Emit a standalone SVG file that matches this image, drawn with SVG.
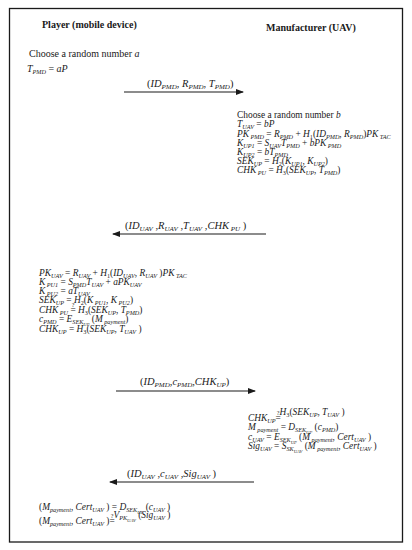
<svg xmlns="http://www.w3.org/2000/svg" width="412" height="550" viewBox="0 0 412 550">
<defs>
<style>
text{font-family:"Liberation Serif","Times New Roman",serif;fill:#1a1a1a;font-size:9.4px}
.h{font-size:10px;font-weight:bold}
.big{font-size:10px}
.lab{font-size:10.5px}
.lab .s{font-size:7px}
.i{font-style:italic}
.s{font-style:italic;font-size:6.2px}
.ss{font-style:italic;font-size:4.6px}
.n{font-style:normal;font-size:6.2px}
.q{font-size:6px;font-style:normal}
.ln{stroke:#1a1a1a;stroke-width:1.1;fill:none}
</style>
<marker id="ah" markerWidth="8" markerHeight="6" refX="7" refY="3" orient="auto" markerUnits="userSpaceOnUse">
<path d="M0,0 L8,3 L0,6 Z" fill="#1a1a1a"/>
</marker>
</defs>
<rect x="0" y="0" width="412" height="550" fill="#fff"/>
<rect x="9.5" y="8.5" width="393" height="533.5" fill="none" stroke="#1a1a1a" stroke-width="1.3"/>

<g id="player-title"><text class="h" x="42" y="28">Player (mobile device)</text></g>
<g id="uav-title"><text class="h" x="266" y="31">Manufacturer (UAV)</text></g>

<g id="player-step1">
<text class="big" x="29" y="57">Choose a random number <tspan class="i">a</tspan></text>
<text class="big" x="27" y="72"><tspan class="i">T</tspan><tspan class="s" dy="2">PMD</tspan><tspan dy="-2"> = </tspan><tspan class="i">aP</tspan></text>
</g>

<g id="uav-step1">
<text x="237" y="118">Choose a random number <tspan class="i">b</tspan></text>
<text x="237" y="127"><tspan class="i">T</tspan><tspan class="s" dy="2">UAV</tspan><tspan dy="-2"> = </tspan><tspan class="i">bP</tspan></text>
<text x="237" y="137"><tspan class="i">PK</tspan><tspan class="s" dy="2"> PMD</tspan><tspan dy="-2"> = </tspan><tspan class="i">R</tspan><tspan class="s" dy="2">PMD</tspan><tspan dy="-2"> + </tspan><tspan class="i">H</tspan><tspan class="n" dy="2">1</tspan><tspan dy="-2">(</tspan><tspan class="i">ID</tspan><tspan class="s" dy="2">PMD</tspan><tspan dy="-2">, </tspan><tspan class="i">R</tspan><tspan class="s" dy="2">PMD</tspan><tspan dy="-2">)</tspan><tspan class="i">PK</tspan><tspan class="s" dy="2"> TAC</tspan></text>
<text x="237" y="146"><tspan class="i">K</tspan><tspan class="s" dy="2">UP1</tspan><tspan dy="-2"> = </tspan><tspan class="i">S</tspan><tspan class="s" dy="2">UAV</tspan><tspan class="i" dy="-2">T</tspan><tspan class="s" dy="2">PMD</tspan><tspan dy="-2"> + </tspan><tspan class="i">bPK</tspan><tspan class="s" dy="2"> PMD</tspan></text>
<text x="237" y="155"><tspan class="i">K</tspan><tspan class="s" dy="2">UP2</tspan><tspan dy="-2"> = </tspan><tspan class="i">bT</tspan><tspan class="s" dy="2">PMD</tspan></text>
<text x="237" y="164"><tspan class="i">SEK</tspan><tspan class="s" dy="2">UP</tspan><tspan dy="-2"> = </tspan><tspan class="i">H</tspan><tspan class="n" dy="2">2</tspan><tspan dy="-2">(</tspan><tspan class="i">K</tspan><tspan class="s" dy="2">UP1</tspan><tspan dy="-2">, </tspan><tspan class="i">K</tspan><tspan class="s" dy="2">UP2</tspan><tspan dy="-2">)</tspan></text>
<text x="237" y="173"><tspan class="i">CHK</tspan><tspan class="s" dy="2"> PU</tspan><tspan dy="-2"> = </tspan><tspan class="i">H</tspan><tspan class="n" dy="2">3</tspan><tspan dy="-2">(</tspan><tspan class="i">SEK</tspan><tspan class="s" dy="2">UP</tspan><tspan dy="-2">, </tspan><tspan class="i">T</tspan><tspan class="s" dy="2">PMD</tspan><tspan dy="-2">)</tspan></text>
</g>

<g id="player-step2">
<text x="39" y="276"><tspan class="i">PK</tspan><tspan class="s" dy="2">UAV</tspan><tspan dy="-2"> = </tspan><tspan class="i">R</tspan><tspan class="s" dy="2">UAV</tspan><tspan dy="-2"> + </tspan><tspan class="i">H</tspan><tspan class="n" dy="2">1</tspan><tspan dy="-2">(</tspan><tspan class="i">ID</tspan><tspan class="s" dy="2">UAV</tspan><tspan dy="-2">, </tspan><tspan class="i">R</tspan><tspan class="s" dy="2">UAV</tspan><tspan dy="-2"> )</tspan><tspan class="i">PK</tspan><tspan class="s" dy="2"> TAC</tspan></text>
<text x="39" y="285"><tspan class="i">K</tspan><tspan class="s" dy="2"> PU1</tspan><tspan dy="-2"> = </tspan><tspan class="i">S</tspan><tspan class="s" dy="2">PMD</tspan><tspan class="i" dy="-2">T</tspan><tspan class="s" dy="2">UAV</tspan><tspan dy="-2"> + </tspan><tspan class="i">aPK</tspan><tspan class="s" dy="2">UAV</tspan></text>
<text x="39" y="294"><tspan class="i">K</tspan><tspan class="s" dy="2"> PU2</tspan><tspan dy="-2"> = </tspan><tspan class="i">aT</tspan><tspan class="s" dy="2">UAV</tspan></text>
<text x="39" y="303"><tspan class="i">SEK</tspan><tspan class="s" dy="2">UP</tspan><tspan dy="-2"> = </tspan><tspan class="i">H</tspan><tspan class="n" dy="2">2</tspan><tspan dy="-2">(</tspan><tspan class="i">K</tspan><tspan class="s" dy="2"> PU1</tspan><tspan dy="-2">, </tspan><tspan class="i">K</tspan><tspan class="s" dy="2"> PU2</tspan><tspan dy="-2">)</tspan></text>
<text x="39" y="313"><tspan class="i">CHK</tspan><tspan class="s" dy="2"> PU</tspan><tspan dy="-2"> =</tspan><tspan class="q" dx="-4" dy="-6">?</tspan><tspan dx="1.3" dy="6"> </tspan><tspan class="i">H</tspan><tspan class="n" dy="2">3</tspan><tspan dy="-2">(</tspan><tspan class="i">SEK</tspan><tspan class="s" dy="2">UP</tspan><tspan dy="-2">, </tspan><tspan class="i">T</tspan><tspan class="s" dy="2">PMD</tspan><tspan dy="-2">)</tspan></text>
<text x="39" y="322"><tspan class="i">c</tspan><tspan class="s" dy="2">PMD</tspan><tspan dy="-2"> = </tspan><tspan class="i">E</tspan><tspan class="s" dy="2">SEK</tspan><tspan class="ss" dy="1.5">UP</tspan><tspan dy="-3.5"> (</tspan><tspan class="i">M</tspan><tspan class="s" dy="2"> payment</tspan><tspan dy="-2">)</tspan></text>
<text x="39" y="332"><tspan class="i">CHK</tspan><tspan class="s" dy="2">UP</tspan><tspan dy="-2"> = </tspan><tspan class="i">H</tspan><tspan class="n" dy="2">3</tspan><tspan dy="-2">(</tspan><tspan class="i">SEK</tspan><tspan class="s" dy="2">UP</tspan><tspan dy="-2">, </tspan><tspan class="i">T</tspan><tspan class="s" dy="2">UAV</tspan><tspan dy="-2"> )</tspan></text>
</g>

<g id="uav-step2">
<text x="248" y="421"><tspan class="i">CHK</tspan><tspan class="s" dy="2">UP</tspan><tspan dy="-2">=</tspan><tspan class="q" dx="-4" dy="-6">?</tspan><tspan dx="1.3" dy="6"></tspan><tspan class="i">H</tspan><tspan class="n" dy="2">3</tspan><tspan dy="-2">(</tspan><tspan class="i">SEK</tspan><tspan class="s" dy="2">UP</tspan><tspan dy="-2">, </tspan><tspan class="i">T</tspan><tspan class="s" dy="2">UAV</tspan><tspan dy="-2"> )</tspan></text>
<text x="248" y="430"><tspan class="i">M</tspan><tspan class="s" dy="2"> payment</tspan><tspan dy="-2"> = </tspan><tspan class="i">D</tspan><tspan class="s" dy="2">SEK</tspan><tspan class="ss" dy="1.5">UP</tspan><tspan dy="-3.5"> (</tspan><tspan class="i">c</tspan><tspan class="s" dy="2">PMD</tspan><tspan dy="-2">)</tspan></text>
<text x="248" y="440"><tspan class="i">c</tspan><tspan class="s" dy="2">UAV</tspan><tspan dy="-2"> = </tspan><tspan class="i">E</tspan><tspan class="s" dy="2">SEK</tspan><tspan class="ss" dy="1.5">UP</tspan><tspan dy="-3.5"> (</tspan><tspan class="i">M</tspan><tspan class="s" dy="2"> payment</tspan><tspan dy="-2">, </tspan><tspan class="i">Cert</tspan><tspan class="s" dy="2">UAV</tspan><tspan dy="-2"> )</tspan></text>
<text x="248" y="449"><tspan class="i">Sig</tspan><tspan class="s" dy="2">UAV</tspan><tspan dy="-2"> = </tspan><tspan class="i">S</tspan><tspan class="s" dy="2">SK</tspan><tspan class="ss" dy="1.5">UAV</tspan><tspan dy="-3.5"> (</tspan><tspan class="i">M</tspan><tspan class="s" dy="2"> payment</tspan><tspan dy="-2">, </tspan><tspan class="i">Cert</tspan><tspan class="s" dy="2">UAV</tspan><tspan dy="-2"> )</tspan></text>
</g>

<g id="player-step3">
<text x="39" y="510"><tspan>(</tspan><tspan class="i">M</tspan><tspan class="s" dy="2">payment</tspan><tspan dy="-2">, </tspan><tspan class="i">Cert</tspan><tspan class="s" dy="2">UAV</tspan><tspan dy="-2"> ) = </tspan><tspan class="i">D</tspan><tspan class="s" dy="2">SEK</tspan><tspan class="ss" dy="1.5">UP</tspan><tspan dy="-3.5"> (</tspan><tspan class="i">c</tspan><tspan class="s" dy="2">UAV</tspan><tspan dy="-2"> )</tspan></text>
<text x="39" y="524"><tspan>(</tspan><tspan class="i">M</tspan><tspan class="s" dy="2">payment</tspan><tspan dy="-2">, </tspan><tspan class="i">Cert</tspan><tspan class="s" dy="2">UAV</tspan><tspan dy="-2"> )=</tspan><tspan class="q" dx="-4" dy="-6">?</tspan><tspan dx="1.3" dy="6"></tspan><tspan class="i">V</tspan><tspan class="s" dy="2">PK</tspan><tspan class="ss" dy="1.5">UAV</tspan><tspan dy="-3.5"> (</tspan><tspan class="i">Sig</tspan><tspan class="s" dy="2">UAV</tspan><tspan dy="-2"> )</tspan></text>
</g>

<g id="connectors">
<line class="ln" x1="124" y1="92" x2="243" y2="92" marker-end="url(#ah)"/>
<text class="lab" x="147" y="87">(<tspan class="i">ID</tspan><tspan class="s" dy="2">PMD</tspan><tspan dy="-2">, </tspan><tspan class="i">R</tspan><tspan class="s" dy="2">PMD</tspan><tspan dy="-2">, </tspan><tspan class="i">T</tspan><tspan class="s" dy="2">PMD</tspan><tspan dy="-2">)</tspan></text>

<line class="ln" x1="266" y1="234" x2="113" y2="234" marker-end="url(#ah)"/>
<text class="lab" x="125" y="229">(<tspan class="i">ID</tspan><tspan class="s" dy="2">UAV</tspan><tspan dy="-2"> ,</tspan><tspan class="i">R</tspan><tspan class="s" dy="2">UAV</tspan><tspan dy="-2"> ,</tspan><tspan class="i">T</tspan><tspan class="s" dy="2">UAV</tspan><tspan dy="-2"> ,</tspan><tspan class="i">CHK</tspan><tspan class="s" dy="2"> PU</tspan><tspan dy="-2"> )</tspan></text>

<line class="ln" x1="116" y1="391" x2="255" y2="391" marker-end="url(#ah)"/>
<text class="lab" x="140" y="385">(<tspan class="i">ID</tspan><tspan class="s" dy="2">PMD</tspan><tspan dy="-2">,</tspan><tspan class="i">c</tspan><tspan class="s" dy="2">PMD</tspan><tspan dy="-2">,</tspan><tspan class="i">CHK</tspan><tspan class="s" dy="2">UP</tspan><tspan dy="-2">)</tspan></text>

<line class="ln" x1="254" y1="482" x2="110" y2="482" marker-end="url(#ah)"/>
<text class="lab" x="127" y="477">(<tspan class="i">ID</tspan><tspan class="s" dy="2">UAV</tspan><tspan dy="-2"> ,</tspan><tspan class="i">c</tspan><tspan class="s" dy="2">UAV</tspan><tspan dy="-2"> ,</tspan><tspan class="i">Sig</tspan><tspan class="s" dy="2">UAV</tspan><tspan dy="-2"> )</tspan></text>
</g>
</svg>
